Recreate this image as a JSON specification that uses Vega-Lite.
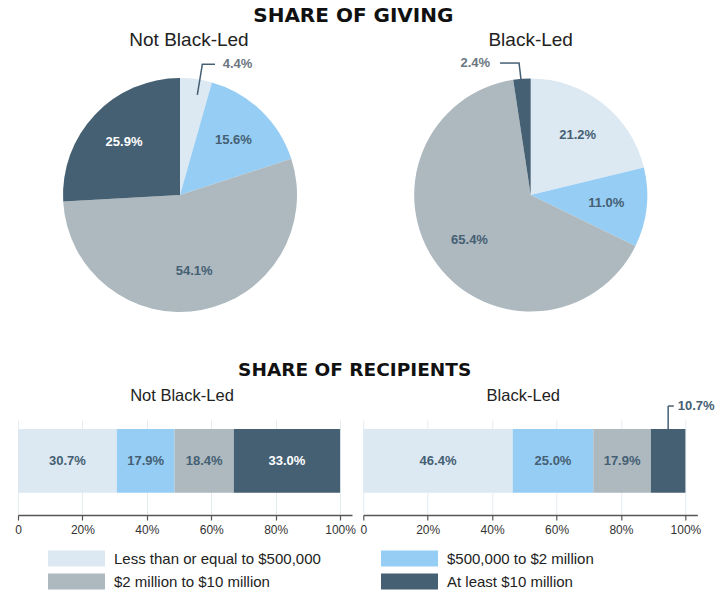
{
  "$schema": "https://vega.github.io/schema/vega-lite/v6.json",
  "background": "white",
  "padding": {"left": 14, "top": 6, "right": 0, "bottom": 0},
  "datasets": {
    "giving": [
      {"group": "Not Black-Led", "category": "Less than or equal to $500,000", "rank": 1, "value": 0.044},
      {"group": "Not Black-Led", "category": "$500,000 to $2 million", "rank": 2, "value": 0.156},
      {"group": "Not Black-Led", "category": "$2 million to $10 million", "rank": 3, "value": 0.541},
      {"group": "Not Black-Led", "category": "At least $10 million", "rank": 4, "value": 0.259},
      {"group": "Black-Led", "category": "Less than or equal to $500,000", "rank": 1, "value": 0.212},
      {"group": "Black-Led", "category": "$500,000 to $2 million", "rank": 2, "value": 0.110},
      {"group": "Black-Led", "category": "$2 million to $10 million", "rank": 3, "value": 0.654},
      {"group": "Black-Led", "category": "At least $10 million", "rank": 4, "value": 0.024}
    ],
    "recipients": [
      {"group": "Not Black-Led", "category": "Less than or equal to $500,000", "rank": 1, "value": 0.307},
      {"group": "Not Black-Led", "category": "$500,000 to $2 million", "rank": 2, "value": 0.179},
      {"group": "Not Black-Led", "category": "$2 million to $10 million", "rank": 3, "value": 0.184},
      {"group": "Not Black-Led", "category": "At least $10 million", "rank": 4, "value": 0.330},
      {"group": "Black-Led", "category": "Less than or equal to $500,000", "rank": 1, "value": 0.464},
      {"group": "Black-Led", "category": "$500,000 to $2 million", "rank": 2, "value": 0.250},
      {"group": "Black-Led", "category": "$2 million to $10 million", "rank": 3, "value": 0.179},
      {"group": "Black-Led", "category": "At least $10 million", "rank": 4, "value": 0.107}
    ]
  },
  "config": {
    "view": {"stroke": null},
    "font": "Liberation Sans",
    "legend": {
      "orient": "bottom",
      "columns": 2,
      "symbolType": "M-1,-0.28H1V0.28H-1Z",
      "symbolSize": 3249,
      "symbolStrokeWidth": 0,
      "symbolOpacity": 1,
      "clipHeight": 17,
      "labelFontSize": 15,
      "labelFont": "Liberation Sans",
      "labelColor": "#222",
      "labelOffset": 9,
      "columnPadding": 60,
      "rowPadding": 6,
      "padding": 30,
      "offset": -15,
      "labelLimit": 400
    }
  },
  "spacing": 21,
  "vconcat": [
    {
      "title": {"text": "SHARE OF GIVING", "font": "DejaVu Sans", "fontSize": 20, "fontWeight": "bold", "color": "#111", "anchor": "middle", "offset": 5, "dx": 4},
      "spacing": 38.7,
      "hconcat": [
        {
          "width": 324, "height": 290,
          "title": {"text": "Not Black-Led", "fontSize": 19, "fontWeight": "normal", "color": "#222", "dx": 9, "offset": 0},
          "data": {"name": "giving"},
          "transform": [{"filter": "datum.group === 'Not Black-Led'"}],
          "layer": [
            {
              "mark": {"type": "arc", "outerRadius": 117},
              "encoding": {
                "theta": {"field": "value", "type": "quantitative", "stack": true},
                "order": {"field": "rank", "type": "quantitative"},
                "color": {"field": "category", "type": "nominal", "title": null,
                  "scale": {"domain": ["Less than or equal to $500,000", "$500,000 to $2 million", "$2 million to $10 million", "At least $10 million"], "range": ["#dce8f2", "#96cdf4", "#adb8bf", "#455f73"]}}
              }
            },
            {
              "mark": {"type": "text", "radius": 77, "fontSize": 13, "fontWeight": "bold"},
              "encoding": {
                "theta": {"field": "value", "type": "quantitative", "stack": true},
                "order": {"field": "rank", "type": "quantitative"},
                "text": {"condition": {"test": "datum.value < 0.05", "value": ""}, "field": "value", "type": "quantitative", "format": ".1%"},
                "color": {"condition": {"test": "datum.rank === 4", "value": "white"}, "value": "#455f73"}
              }
            },
            {
              "transform": [{"filter": "datum.rank === 1"}],
              "mark": {"type": "rule", "color": "#455f73", "strokeWidth": 1.5},
              "encoding": {
                "x": {"datum": 0.148, "type": "quantitative", "scale": {"domain": [-1.385, 1.385], "nice": false, "zero": false}, "axis": null},
                "y": {"datum": 0.855, "type": "quantitative", "scale": {"domain": [-1.239, 1.239], "nice": false, "zero": false}, "axis": null},
                "x2": {"datum": 0.191},
                "y2": {"datum": 1.117}
              }
            },
            {
              "transform": [{"filter": "datum.rank === 1"}],
              "mark": {"type": "rule", "color": "#455f73", "strokeWidth": 1.5},
              "encoding": {
                "x": {"datum": 0.185, "type": "quantitative"},
                "y": {"datum": 1.117, "type": "quantitative"},
                "x2": {"datum": 0.299},
                "y2": {"datum": 1.117}
              }
            },
            {
              "transform": [{"filter": "datum.rank === 1"}],
              "mark": {"type": "text", "align": "left", "baseline": "middle", "fontSize": 13, "fontWeight": "bold", "color": "#6b7680"},
              "encoding": {
                "x": {"datum": 0.365, "type": "quantitative"},
                "y": {"datum": 1.117, "type": "quantitative"},
                "text": {"field": "value", "type": "quantitative", "format": ".1%"}
              }
            }
          ]
        },
        {
          "width": 300, "height": 290,
          "title": {"text": "Black-Led", "fontSize": 19, "fontWeight": "normal", "color": "#222", "offset": 0},
          "data": {"name": "giving"},
          "transform": [{"filter": "datum.group === 'Black-Led'"}],
          "layer": [
            {
              "mark": {"type": "arc", "outerRadius": 116.5},
              "encoding": {
                "theta": {"field": "value", "type": "quantitative", "stack": true},
                "order": {"field": "rank", "type": "quantitative"},
                "color": {"field": "category", "type": "nominal", "title": null,
                  "scale": {"domain": ["Less than or equal to $500,000", "$500,000 to $2 million", "$2 million to $10 million", "At least $10 million"], "range": ["#dce8f2", "#96cdf4", "#adb8bf", "#455f73"]}}
              }
            },
            {
              "mark": {"type": "text", "radius": 76, "fontSize": 13, "fontWeight": "bold"},
              "encoding": {
                "theta": {"field": "value", "type": "quantitative", "stack": true},
                "order": {"field": "rank", "type": "quantitative"},
                "text": {"condition": {"test": "datum.value < 0.05", "value": ""}, "field": "value", "type": "quantitative", "format": ".1%"},
                "color": {"condition": {"test": "datum.rank === 4", "value": "white"}, "value": "#455f73"}
              }
            },
            {
              "transform": [{"filter": "datum.rank === 4"}],
              "mark": {"type": "rule", "color": "#455f73", "strokeWidth": 1.5},
              "encoding": {
                "x": {"datum": -0.264, "type": "quantitative", "scale": {"domain": [-1.288, 1.288], "nice": false, "zero": false}, "axis": null},
                "y": {"datum": 1.133, "type": "quantitative", "scale": {"domain": [-1.245, 1.245], "nice": false, "zero": false}, "axis": null},
                "x2": {"datum": -0.094},
                "y2": {"datum": 1.133}
              }
            },
            {
              "transform": [{"filter": "datum.rank === 4"}],
              "mark": {"type": "rule", "color": "#455f73", "strokeWidth": 1.5},
              "encoding": {
                "x": {"datum": -0.1, "type": "quantitative"},
                "y": {"datum": 1.133, "type": "quantitative"},
                "x2": {"datum": -0.083},
                "y2": {"datum": 0.99}
              }
            },
            {
              "transform": [{"filter": "datum.rank === 4"}],
              "mark": {"type": "text", "align": "right", "baseline": "middle", "fontSize": 13, "fontWeight": "bold", "color": "#6b7680"},
              "encoding": {
                "x": {"datum": -0.349, "type": "quantitative"},
                "y": {"datum": 1.136, "type": "quantitative"},
                "text": {"field": "value", "type": "quantitative", "format": ".1%"}
              }
            }
          ]
        }
      ]
    },
    {
      "title": {"text": "SHARE OF RECIPIENTS", "font": "DejaVu Sans", "fontSize": 18.5, "fontWeight": "bold", "color": "#111", "anchor": "middle", "offset": 8, "dx": -10},
      "spacing": 3.3,
      "hconcat": [
        {
          "width": 334, "height": 95,
          "title": {"text": "Not Black-Led", "fontSize": 16.5, "fontWeight": "normal", "color": "#222", "dx": -3, "offset": 16},
          "data": {"name": "recipients"},
          "transform": [
            {"filter": "datum.group === 'Not Black-Led'"},
            {"stack": "value", "groupby": [], "sort": [{"field": "rank", "order": "ascending"}], "as": ["x0", "x1"]},
            {"calculate": "(datum.x0 + datum.x1) / 2", "as": "mid"}
          ],
          "layer": [
            {
              "mark": {"type": "bar"},
              "encoding": {
                "x": {"field": "x0", "type": "quantitative", "scale": {"domain": [0, 1.037], "nice": false, "zero": false},
                  "axis": {"values": [0, 0.2, 0.4, 0.6, 0.8, 1], "format": ".0%", "labelExpr": "datum.value === 0 ? '0' : datum.label", "title": null, "grid": true, "gridColor": "#e3ecef", "domainColor": "#555", "domainWidth": 1.5, "tickColor": "#555", "tickSize": 5, "tickWidth": 1.2, "labelFontSize": 12, "labelColor": "#333", "labelPadding": 4, "labelFlush": false}},
                "x2": {"field": "x1"},
                "y": {"datum": 0.905, "type": "quantitative", "scale": {"domain": [0, 1], "nice": false}, "axis": null},
                "y2": {"datum": 0.235},
                "color": {"field": "category", "type": "nominal", "title": null,
                  "scale": {"domain": ["Less than or equal to $500,000", "$500,000 to $2 million", "$2 million to $10 million", "At least $10 million"], "range": ["#dce8f2", "#96cdf4", "#adb8bf", "#455f73"]}}
              }
            },
            {
              "mark": {"type": "text", "fontSize": 13, "fontWeight": "bold", "baseline": "middle"},
              "encoding": {
                "x": {"field": "mid", "type": "quantitative"},
                "y": {"datum": 0.569, "type": "quantitative"},
                "text": {"condition": {"test": "datum.value < 0.12", "value": ""}, "field": "value", "type": "quantitative", "format": ".1%"},
                "color": {"condition": {"test": "datum.rank === 4", "value": "white"}, "value": "#455f73"}
              }
            }
          ]
        },
        {
          "width": 334, "height": 95,
          "title": {"text": "Black-Led", "fontSize": 16.5, "fontWeight": "normal", "color": "#222", "dx": -7, "offset": -4},
          "data": {"name": "recipients"},
          "transform": [
            {"filter": "datum.group === 'Black-Led'"},
            {"stack": "value", "groupby": [], "sort": [{"field": "rank", "order": "ascending"}], "as": ["x0", "x1"]},
            {"calculate": "(datum.x0 + datum.x1) / 2", "as": "mid"}
          ],
          "layer": [
            {
              "mark": {"type": "bar"},
              "encoding": {
                "x": {"field": "x0", "type": "quantitative", "scale": {"domain": [0, 1.037], "nice": false, "zero": false},
                  "axis": {"values": [0, 0.2, 0.4, 0.6, 0.8, 1], "format": ".0%", "labelExpr": "datum.value === 0 ? '0' : datum.label", "title": null, "grid": true, "gridColor": "#e3ecef", "domainColor": "#555", "domainWidth": 1.5, "tickColor": "#555", "tickSize": 5, "tickWidth": 1.2, "labelFontSize": 12, "labelColor": "#333", "labelPadding": 4, "labelFlush": false}},
                "x2": {"field": "x1"},
                "y": {"datum": 0.905, "type": "quantitative", "scale": {"domain": [0, 1], "nice": false}, "axis": null},
                "y2": {"datum": 0.235},
                "color": {"field": "category", "type": "nominal", "title": null,
                  "scale": {"domain": ["Less than or equal to $500,000", "$500,000 to $2 million", "$2 million to $10 million", "At least $10 million"], "range": ["#dce8f2", "#96cdf4", "#adb8bf", "#455f73"]}}
              }
            },
            {
              "mark": {"type": "text", "fontSize": 13, "fontWeight": "bold", "baseline": "middle"},
              "encoding": {
                "x": {"field": "mid", "type": "quantitative"},
                "y": {"datum": 0.569, "type": "quantitative"},
                "text": {"condition": {"test": "datum.value < 0.12", "value": ""}, "field": "value", "type": "quantitative", "format": ".1%"},
                "color": {"condition": {"test": "datum.rank === 4", "value": "white"}, "value": "#455f73"}
              }
            },
            {
              "transform": [{"filter": "datum.rank === 4"}],
              "mark": {"type": "rule", "color": "#455f73", "strokeWidth": 1.5},
              "encoding": {
                "x": {"field": "mid", "type": "quantitative"},
                "y": {"datum": 0.905, "type": "quantitative"},
                "y2": {"datum": 1.147}
              }
            },
            {
              "transform": [{"filter": "datum.rank === 4"}],
              "mark": {"type": "rule", "color": "#455f73", "strokeWidth": 1.5},
              "encoding": {
                "x": {"field": "mid", "type": "quantitative"},
                "x2": {"datum": 0.964},
                "y": {"datum": 1.147, "type": "quantitative"}
              }
            },
            {
              "transform": [{"filter": "datum.rank === 4"}],
              "mark": {"type": "text", "align": "left", "baseline": "middle", "fontSize": 13, "fontWeight": "bold", "color": "#455f73", "dx": 4},
              "encoding": {
                "x": {"datum": 0.964, "type": "quantitative"},
                "y": {"datum": 1.147, "type": "quantitative"},
                "text": {"field": "value", "type": "quantitative", "format": ".1%"}
              }
            }
          ]
        }
      ]
    }
  ]
}
